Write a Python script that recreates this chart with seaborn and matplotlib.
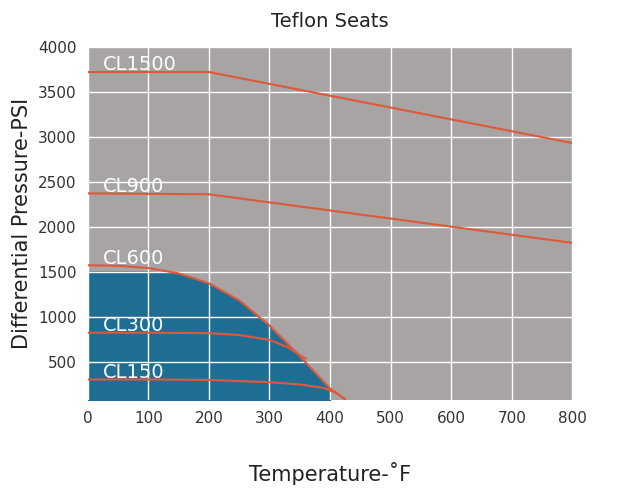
import numpy as np
from matplotlib import pyplot as plt
import seaborn as sns

# rating curves (temperature F, pressure psi)
cl1500_t = [0, 200, 800]
cl1500_p = [3720, 3720, 2930]
cl900_t = [0, 200, 800]
cl900_p = [2370, 2360, 1820]
cl600_t = [0, 50, 100, 150, 200, 250, 300, 350, 400, 425]
cl600_p = [1570, 1565, 1540, 1480, 1370, 1180, 900, 560, 200, 80]
cl300_t = [0, 100, 200, 250, 300, 330, 360]
cl300_p = [820, 820, 815, 795, 740, 660, 530]
cl150_t = [0, 100, 200, 300, 350, 390, 410, 425]
cl150_p = [300, 300, 295, 270, 245, 205, 150, 80]

labels = ["CL1500", "CL900", "CL600", "CL300", "CL150"]
label_y = [3800, 2450, 1650, 900, 380]

sns.set_style("white")
fig = plt.figure(figsize=(6.18, 4.88), dpi=100)
ax = fig.add_axes([0.142, 0.18, 0.784, 0.724])
ax.set_facecolor("#a8a4a3")
ax.set_xlim(0, 800)
ax.set_ylim(70, 4000)

# blue area under CL600, capped at 1500
t_fill = np.array(cl600_t[:-1], dtype=float)
p_fill = np.minimum(np.array(cl600_p[:-1], dtype=float), 1500)
ax.fill_between(t_fill, 0, p_fill, color="#1e6e94", zorder=1)

ax.set_xticks(range(0, 801, 100))
ax.set_yticks(range(500, 4001, 500))
ax.set_xticks(range(0, 801, 20), minor=True)
ax.set_yticks(range(100, 4001, 100), minor=True)
ax.grid(True, which="major", color="white", linewidth=1, zorder=2)
ax.set_axisbelow(False)
ax.tick_params(which="both", direction="in", color="white", labelsize=11,
               labelcolor="#333333", pad=8)
ax.tick_params(which="major", length=7)
ax.tick_params(which="minor", length=5)
for s in ax.spines.values():
    s.set_visible(False)

red = "#e0583a"
for t, p in [(cl1500_t, cl1500_p), (cl900_t, cl900_p), (cl600_t, cl600_p),
             (cl300_t, cl300_p), (cl150_t, cl150_p)]:
    sns.lineplot(x=t, y=p, ax=ax, color=red, linewidth=1.5, sort=False, zorder=3)

for lab, y in zip(labels, label_y):
    ax.text(25, y, lab, color="white", fontsize=14, va="center", zorder=4)

ax.set_title("Teflon Seats", fontsize=14, color="#222222", pad=14)
ax.set_xlabel("Temperature-˚F", fontsize=15, color="#222222", labelpad=26)
ax.set_ylabel("Differential Pressure-PSI", fontsize=15, color="#222222")
fig.savefig("out.png", dpi=100)
